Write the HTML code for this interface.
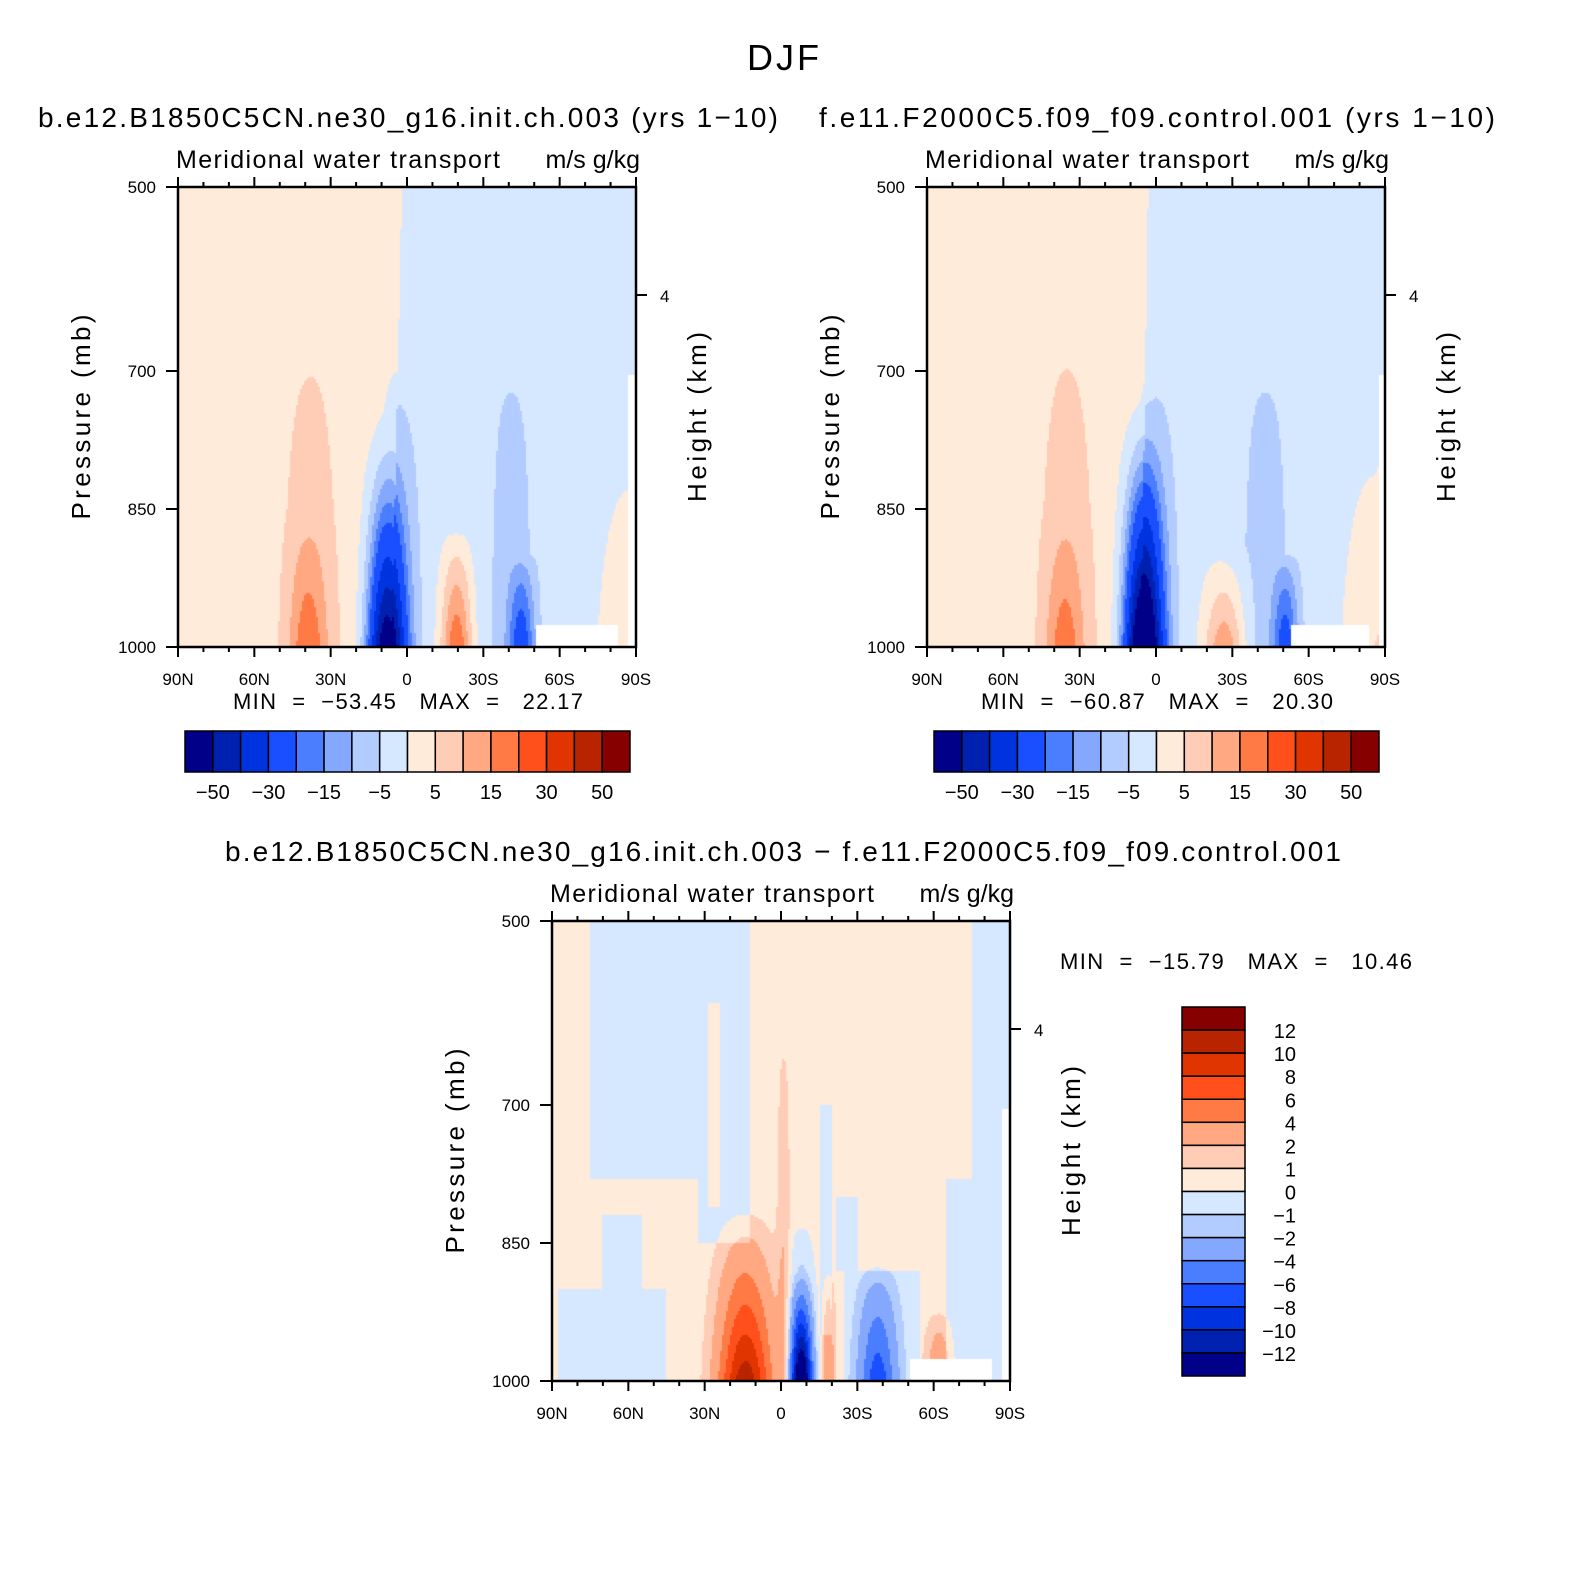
<!DOCTYPE html>
<html><head><meta charset="utf-8">
<style>
html,body{margin:0;padding:0;background:#fff;}
#wrap{position:relative;width:1580px;height:1583px;overflow:hidden;background:#fff;}
canvas{position:absolute;}
svg{position:absolute;left:0;top:0;}
text{font-family:"Liberation Sans",sans-serif;fill:#000;white-space:pre;}
</style></head>
<body>
<div id="wrap">
<canvas id="c1" width="458" height="460" style="left:178px;top:187px"></canvas>
<canvas id="c2" width="458" height="460" style="left:927px;top:187px"></canvas>
<canvas id="c3" width="458" height="460" style="left:552px;top:921px"></canvas>
<svg id="ov" width="1580" height="1583"></svg>
</div>
<script>
// ---- data ----
const colors=["#000088","#0021b0","#0033e0","#1a4fff","#4a7dff","#85a8ff","#b3ccff","#d6e8ff","#ffebd9","#ffccb5","#ffa882","#ff7a45","#ff4f1a","#e03500","#b82400","#870000"];
const lev1=[-50,-40,-30,-20,-15,-10,-5,0,5,10,15,20,30,40,50];
const lev3=[-12,-10,-8,-6,-4,-2,-1,0,1,2,4,6,8,10,12];
const cbLabels1=["-50","-30","-15","-5","5","15","30","50"];
const cbLabelIdx1=[0,2,4,6,8,10,12,14];
const cbLabels3=["12","10","8","6","4","2","1","0","-1","-2","-4","-6","-8","-10","-12"];
const xTickLabels=["90N","60N","30N","0","30S","60S","90S"];
const xTickLats=[-90,-60,-30,0,30,60,90];
const yTickLabels=["500","700","850","1000"];
const yTickP=[500,700,850,1000];
// base: [northValue, southValue, boundaryLatAtTop, boundaryLatAtBottom]
const base1=[2,-2,-2,-6];
const base2=[2,-2,-3,-6];
// blobs: [centerLat, widthLat, amplitude, topPressure, exponent]
const blobs1=[[-38,12,7,640,0.5],[-39,7,11,850,1.0],[-3,9,-6,680,0.4],[-8,7,-60,740,1.6],
 [19.5,6,22,870,0.8],[41,11,-5,700,0.2],[45,5,-20,900,0.7],[88,12,7,760,1.0]];
const blobs2=[[-35,12,7,630,0.5],[-36,7,10,850,1.0],[0,9,-6,670,0.4],[-5,7,-75,730,1.5],
 [27,8,17,890,1.0],[43,12,-5,700,0.2],[51,5,-20,900,0.7],[86,12,7,740,1.0],[92,3,5,600,0.5]];
// diff panel base regions: [lat0, lat1, p0, p1, value], drawn in order
const regions3=[[-90,90,500,1000,0.5],[-75,-33,500,780,-0.5],[-33,-12,500,850,-0.5],[-29,-24,590,810,0.5],
 [-88,-45,900,1000,-0.5],[-70,-55,820,900,-0.5],[15,20,700,950,-0.5],[25,55,880,1000,-0.5],[22,30,800,880,-0.5],
 [75,90,500,1000,-0.5],[65,75,780,1000,-0.5]];
const blobs3=[[-14,10,11,800,1.3],[1,2.5,1.8,620,0.5],[8,5,-4,820,0.8],[8,4,-14,880,1.2],
 [18.5,2.5,3.5,880,0.6],[38,7,-7,870,0.9],[62,5,3.5,920,0.8]];
// masks (below ground): [lat0, lat1, p0]
const mask=[[51,83,976],[86.5,91,705]];
const mask2=[[53,84,976],[87.5,91,705]];

function blobVal(bl,lat,p){let v=0;for(const b of bl){const f=(p-b[3])/(1000-b[3]);if(f<=0)continue;v+=b[2]*Math.exp(-Math.pow((lat-b[0])/b[1],2))*Math.pow(f,b[4]);}return v;}
function draw(id,lev,fn,mk){const c=document.getElementById(id),g=c.getContext('2d');const W=c.width,H=c.height;
 for(let y=0;y<H;y+=2)for(let x=0;x<W;x+=2){const lat=-90+(x+1)/W*180,p=500+(y+1)/H*500;
  let m=false;for(const q of mk){if(lat>=q[0]&&lat<=q[1]&&p>=q[2])m=true;}
  if(m){g.fillStyle='#fff';}else{const v=fn(lat,p);let i=0;while(i<lev.length&&v>=lev[i])i++;g.fillStyle=colors[i];}
  g.fillRect(x,y,2,2);}}
function f12(bs,bl){return (lat,p)=>{const bd=bs[2]+(bs[3]-bs[2])*(p-500)/500;return (lat<bd?bs[0]:bs[1])+blobVal(bl,lat,p);};}
draw('c1',lev1,f12(base1,blobs1),mask);
draw('c2',lev1,f12(base2,blobs2),mask2);
draw('c3',lev3,(lat,p)=>{let v=0;for(const r of regions3){if(lat>=r[0]&&lat<r[1]&&p>=r[2]&&p<=r[3])v=r[4];}return v+blobVal(blobs3,lat,p);},mask);

// ---- overlay ----
const NS='http://www.w3.org/2000/svg',ov=document.getElementById('ov');
function el(t,a,txt){const e=document.createElementNS(NS,t);for(const k in a)e.setAttribute(k,a[k]);if(txt!==undefined)e.textContent=txt;ov.appendChild(e);return e;}
function txt(x,y,s,size,anchor,name,rot,tl){const a={x:x,y:y,'font-size':size,'text-anchor':anchor||'middle'};if(rot)a.transform='rotate(-90 '+x+' '+y+')';if(tl){a.textLength=tl;a.lengthAdjust='spacing';}
 const e=el('text',a,s.replace(/-/g,'\u2212'));
 
 return e;}
function panel(px,py,title,tcx,tlen,minmax,mmx,mmanchor,mmlen,pn){
 const W=458,H=460;const xs=l=>px+(l+90)/180*W, ys=p=>py+(p-500)/500*H;
 txt(tcx,py-60,title,28,'middle',pn+'-title',false,tlen);
 txt(px-2,py-19,'Meridional water transport',25,'start',pn+'-subtitle-left',false,324);
 txt(px+W+4,py-19,'m/s g/kg',25,'end',pn+'-units');
 const fr=el('rect',{x:px,y:py,width:W,height:H,fill:'none',stroke:'#000','stroke-width':2.5});
 
 
 for(let l=-90;l<=90;l+=10){const maj=l%30===0,len=maj?10:5,x=xs(l);
  el('line',{x1:x,x2:x,y1:py,y2:py-len,stroke:'#000','stroke-width':2});
  el('line',{x1:x,x2:x,y1:py+H,y2:py+H+len,stroke:'#000','stroke-width':2});}
 xTickLats.forEach((l,i)=>txt(xs(l),py+H+38,xTickLabels[i],17,'middle',pn+'-x-tick-label'));
 yTickP.forEach((p,i)=>{const y=ys(p);el('line',{x1:px,x2:px-12,y1:y,y2:y,stroke:'#000','stroke-width':2});txt(px-22,y+6,yTickLabels[i],17,'end',pn+'-y-tick-label');});
 el('line',{x1:px+W,x2:px+W+11,y1:py+108,y2:py+108,stroke:'#000','stroke-width':2});
 txt(px+W+24,py+115,'4',17,'start',pn+'-height-tick');
 txt(px-88,py+230,'Pressure (mb)',26,'middle',pn+'-y-axis-title',true,205);
 txt(px+W+70,py+230,'Height (km)',26,'middle',pn+'-right-axis-title',true,170);
 txt(mmx,mmanchor==='start'?py+48:py+H+62,minmax,22,mmanchor,pn+'-min-max',false,mmlen);}
txt(783,70,'DJF',36,'middle','main-title',false,72);
panel(178,187,'b.e12.B1850C5CN.ne30_g16.init.ch.003 (yrs 1-10)',408,740,'MIN  =  -53.45   MAX  =   22.17',408,'middle',350,'panel1');
panel(927,187,'f.e11.F2000C5.f09_f09.control.001 (yrs 1-10)',1157,676,'MIN  =  -60.87   MAX  =   20.30',1157,'middle',352,'panel2');
panel(552,921,'b.e12.B1850C5CN.ne30_g16.init.ch.003 - f.e11.F2000C5.f09_f09.control.001',783,1116,'MIN  =  -15.79   MAX  =   10.46',1060,'start',352,'panel3');
function hbar(x0,y0,w,h,name){const bw=w/16;colors.forEach((c,i)=>{const r=el('rect',{x:x0+i*bw,y:y0,width:bw,height:h,fill:c,stroke:'#000','stroke-width':1.5});
 
 });
 cbLabels1.forEach((s,i)=>txt(x0+(cbLabelIdx1[i]+1)*bw,y0+h+27,s,20,'middle',name+'-label'));}
hbar(185,731,445,41,'colorbar1');hbar(934,731,445,41,'colorbar2');
(function(){const x0=1182,y0=1007,w=63,h=369,bh=h/16;for(let i=0;i<16;i++){const r=el('rect',{x:x0,y:y0+i*bh,width:w,height:bh,fill:colors[15-i],stroke:'#000','stroke-width':1.5});
 
 }
 cbLabels3.forEach((s,i)=>txt(1296,y0+(i+1)*bh+8,s,20,'end','colorbar3-label'));})();
</script>
</body></html>
